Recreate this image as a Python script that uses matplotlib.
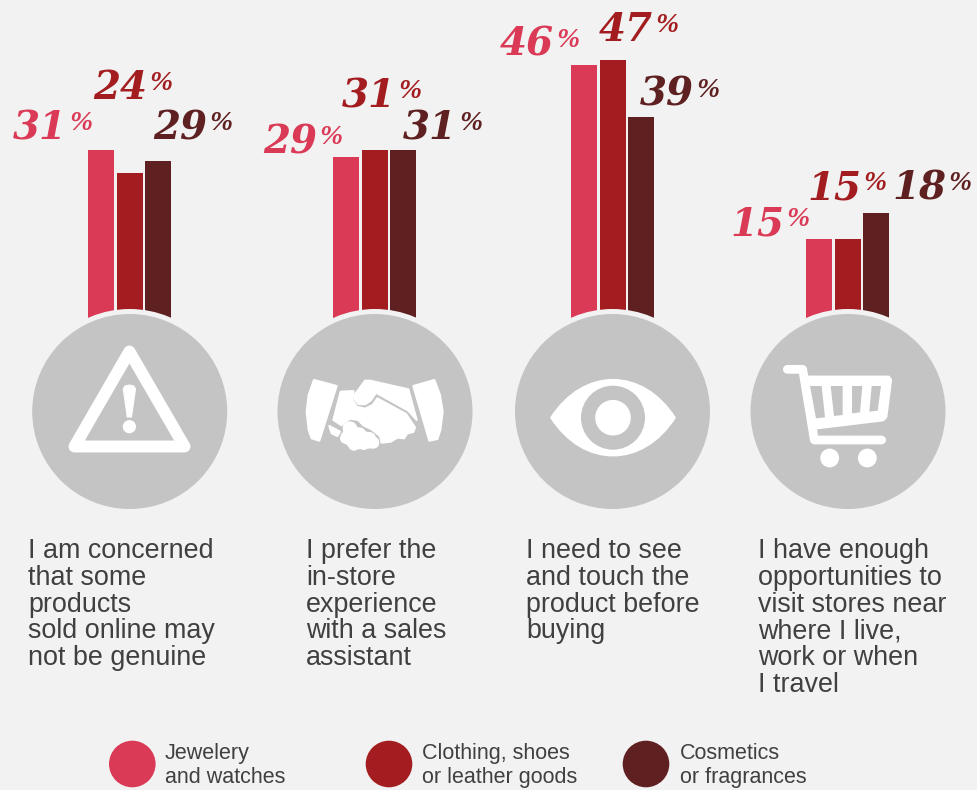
import matplotlib
matplotlib.use("Agg")
import matplotlib.pyplot as plt
from matplotlib.patches import Circle, Polygon, PathPatch
from matplotlib.path import Path

# ---------- data ----------
series_names = [["Jewelery", "and watches"], ["Clothing, shoes", "or leather goods"], ["Cosmetics", "or fragrances"]]
jewelery_labels = [31, 29, 46, 15]
clothing_labels = [24, 31, 47, 15]
cosmetics_labels = [29, 31, 39, 18]
# bar lengths as drawn in the picture (they do not always follow the printed labels)
jewelery_heights = [30.9, 29.6, 46.1, 15.0]
clothing_heights = [26.8, 30.9, 47.0, 15.0]
cosmetics_heights = [28.9, 30.9, 36.75, 19.6]
statements = [
    ["I am concerned", "that some", "products", "sold online may", "not be genuine"],
    ["I prefer the", "in-store", "experience", "with a sales", "assistant"],
    ["I need to see", "and touch the", "product before", "buying"],
    ["I have enough", "opportunities to", "visit stores near", "where I live,", "work or when", "I travel"],
]

# ---------- style / layout ----------
W, H = 978, 790
BG = "#f2f2f2"
GRAY = "#c4c4c4"
COLORS = ["#da3a56", "#a31d20", "#5e2020"]
TEXT = "#404040"
centers = [129.7, 375, 612.5, 848]
cy, R, RING = 411.5, 97.5, 102.5
offsets = [-28.7, 0, 28.3]
bar_w = 26
BASE_PX = 323
PX_PER_UNIT = 5.6
text_x = [28, 306, 526, 758]
label_layout = [  # left x, baseline y per group per series
    [(14, 139), (94, 99), (154, 139)],
    [(264, 153), (343, 107), (404, 139)],
    [(501, 56), (600, 41), (641, 106)],
    [(731, 235), (808, 199), (893, 199)],
]

fig = plt.figure(figsize=(W / 100, H / 100), dpi=100, facecolor=BG)

# bars axes: value axis mapped so that the baseline sits under the circles
axb = fig.add_axes([0, 1 - BASE_PX / H, 1, BASE_PX / H])
axb.set_xlim(0, W)
axb.set_ylim(0, BASE_PX / PX_PER_UNIT)
axb.axis("off")
for s, heights in enumerate([jewelery_heights, clothing_heights, cosmetics_heights]):
    axb.bar([c + offsets[s] for c in centers], heights, width=bar_w, color=COLORS[s], linewidth=0)

# overlay axes in pixel coordinates
ax = fig.add_axes([0, 0, 1, 1])
ax.set_xlim(0, W)
ax.set_ylim(H, 0)
ax.axis("off")
ax.patch.set_alpha(0)

for c in centers:
    ax.add_patch(Circle((c, cy), RING, fc=BG, ec="none", zorder=2))
    ax.add_patch(Circle((c, cy), R, fc=GRAY, ec="none", zorder=3))

WHITE = "#ffffff"


def shape(points, ox, oy, sc=1 / 3, fc=WHITE, lw=1.5, z=4):
    pts = [(ox + x * sc, oy + y * sc) for x, y in points]
    ax.add_patch(Polygon(pts, closed=True, fc=fc, ec=fc, lw=lw, joinstyle="round", zorder=z))


# --- warning triangle
ax.add_patch(Polygon([(129.4, 351.5), (184.5, 446.5), (74.5, 446.5)], closed=True, fc="none", ec=WHITE,
                     lw=8.6, joinstyle="round", zorder=4))
ax.add_patch(Polygon([(123.3, 389), (125, 386), (129.4, 385), (133.8, 386), (135.5, 389), (131.5, 417), (127.3, 417)],
                     closed=True, fc=WHITE, ec=WHITE, lw=0.8, joinstyle="round", zorder=4))
ax.add_patch(Circle((129.4, 426.7), 6.6, fc=WHITE, ec="none", zorder=4))

# --- handshake
ox, oy = 300, 370
shape([(42, 30), (110, 48), (58, 212), (35, 205), (26, 180), (20, 125), (26, 75)], ox, oy)
shape([(403, 30), (340, 48), (388, 212), (412, 207), (421, 180), (428, 125), (420, 75)], ox, oy)
shape([(175, 60), (195, 32), (210, 32), (325, 58), (350, 150), (325, 122), (228, 68), (212, 92), (195, 103),
       (175, 102), (165, 88), (165, 72)], ox, oy)
shape([(122, 65), (160, 63), (158, 90), (170, 110), (195, 116), (218, 105), (232, 85), (318, 132), (345, 172),
       (340, 186), (322, 190), (312, 205), (292, 203), (272, 215), (245, 218), (240, 198), (215, 178), (190, 166),
       (175, 150), (150, 146), (135, 156), (125, 166), (100, 150)], ox, oy)
shape([(88, 168), (120, 185), (112, 198), (95, 190)], ox, oy)
shape([(126, 195), (150, 162), (178, 178), (208, 192), (232, 210), (215, 232), (160, 236), (132, 215)], ox, oy)
for fx, fy, fr in ((150, 176, 22), (136, 205, 16), (178, 192, 20), (162, 224, 18), (208, 206, 20), (192, 226, 14),
                   (220, 218, 18)):
    ax.add_patch(Circle((ox + fx / 3, oy + fy / 3), fr / 3, fc=WHITE, ec="none", zorder=4))

# --- eye
ex, ey, a, b = 613, 417.7, 63, 51.7
eye = Path([(ex - a, ey), (ex - 30, ey - b), (ex + 30, ey - b), (ex + a, ey), (ex + 30, ey + b), (ex - 30, ey + b),
            (ex - a, ey), (ex - a, ey)],
           [Path.MOVETO, Path.CURVE4, Path.CURVE4, Path.CURVE4, Path.CURVE4, Path.CURVE4, Path.CURVE4, Path.CLOSEPOLY])
ax.add_patch(PathPatch(eye, fc=WHITE, ec="none", zorder=4))
ax.add_patch(Circle((ex, ey), 32, fc=GRAY, ec="none", zorder=5))
ax.add_patch(Circle((ex, ey), 17.8, fc=WHITE, ec="none", zorder=6))

# --- cart
ox, oy = 500, 310
sc = 1 / 3
ax.plot([ox + sc * v for v in (862, 908, 943, 1145)], [oy + sc * v for v in (178, 178, 390, 390)], color=WHITE,
        lw=6.3, solid_capstyle="round", solid_joinstyle="round", zorder=4)
shape([(918, 203), (1165, 203), (1170, 210), (1156, 320), (1148, 328), (950, 352)], ox, oy, lw=3)
for win in ([(930, 228), (965, 228), (975, 322), (948, 325)],
            [(992, 228), (1028, 228), (1028, 315), (1002, 318)],
            [(1056, 228), (1087, 228), (1080, 307), (1056, 310)],
            [(1115, 228), (1143, 228), (1133, 302), (1108, 305)]):
    shape(win, ox, oy, fc=GRAY, lw=0, z=5)
for wx in (989, 1102):
    ax.add_patch(Circle((ox + sc * wx, oy + sc * 444), 9.4, fc=WHITE, ec="none", zorder=4))

# --- percent labels
for g in range(4):
    vals = [jewelery_labels[g], clothing_labels[g], cosmetics_labels[g]]
    for s, v in enumerate(vals):
        x, y = label_layout[g][s]
        ax.text(x - 1, y, str(v), color=COLORS[s], family="DejaVu Serif", weight="bold", style="italic",
                fontsize=28, ha="left", va="baseline", zorder=7)
        ax.text(x + 55, y - 9, "%", color=COLORS[s], family="Liberation Serif", weight="bold", style="italic",
                fontsize=20, ha="left", va="baseline", zorder=7)

# --- statements
for x, lines in zip(text_x, statements):
    for i, line in enumerate(lines):
        ax.text(x, 558 + i * 26.8, line, color=TEXT, family="Liberation Sans", fontsize=19.4, ha="left",
                va="baseline", zorder=7)

# --- legend
for cx, tx, col, names in zip((132.3, 389, 646), (165, 421.5, 680), COLORS, series_names):
    ax.add_patch(Circle((cx, 764), 23.3, fc=col, ec="none", zorder=4))
    ax.text(tx, 759, names[0], color=TEXT, family="Liberation Sans", fontsize=15.5, va="baseline", zorder=7)
    ax.text(tx, 783, names[1], color=TEXT, family="Liberation Sans", fontsize=15.5, va="baseline", zorder=7)

fig.savefig("out.png", dpi=100, facecolor=BG)
